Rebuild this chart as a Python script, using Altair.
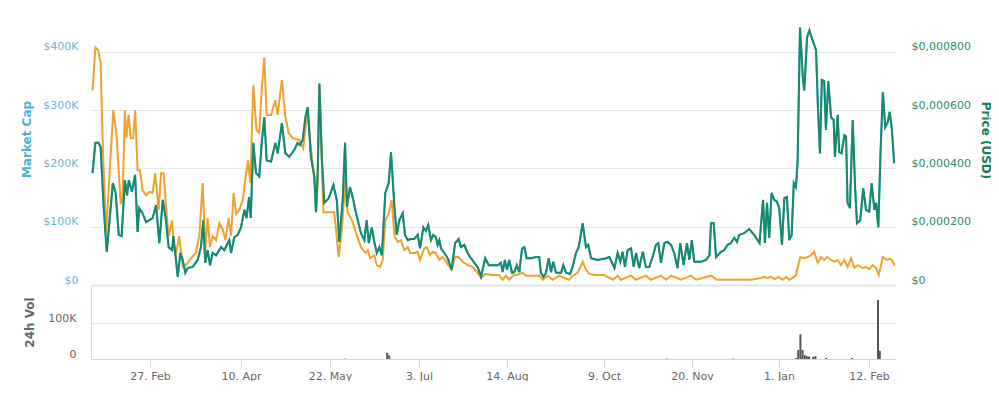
import altair as alt
import pandas as pd

# ---------------- data ----------------
BASE_DATE = "2017-01-31"          # day 0 of the day offsets below
SUPPLY = 5e8                       # $400K market cap <-> $0.000800 price

# market cap (thousand USD) - also gives the USD price line
mcap_day = [0.7, 2, 3.5, 4.4, 5.8, 7.2, 10, 11.3, 12.7, 14, 15.5, 16.5, 17.3, 18.7, 20.2, 21.3, 22.1, 23.6, 25.2, 28.2,
            29.8, 31.3, 32.9, 34.4, 35.6, 37.2, 37.8, 39, 39.8, 41, 42.1, 43.3, 44.4, 46.7, 49, 50.5, 51.6, 52.5, 53.6, 54.7,
            55.9, 57.5, 59.8, 61.3, 63.6, 64.4, 65.9, 67.5, 69, 70.6, 71.6, 72.8, 73.6, 74.8, 76.1, 77.6, 78.9, 80, 81.1, 83.2,
            85.2, 86.3, 88.3, 89.9, 91.8, 94.2, 95.7, 96.8, 98.1, 99.4, 100.5, 102, 103.6, 104.4, 105.2, 106, 107.2, 108.3, 110.4, 112.6,
            114.2, 115.4, 117, 118.1, 119, 120.4, 121.7, 123.3, 125.6, 127.2, 128.3, 129.3, 130.7, 131.9, 133.1, 134.3, 135.5, 137.1, 138.7, 139.8,
            141.4, 142.5, 143.7, 145.3, 146.4, 147.7, 148.9, 150.8, 152.4, 153.5, 155.1, 156.3, 157.4, 158.7, 159.8, 161.1, 161.9, 162.7, 163.5, 165.1,
            166.7, 168.6, 170.2, 171.9, 173, 174.6, 176.2, 177.8, 179.4, 181, 182.6, 184.6, 186.3, 188.2, 190.6, 192.1, 192.9, 194, 195, 196.3,
            197.9, 199.2, 200.6, 202.1, 203.7, 205, 206.4, 208.9, 211.7, 213.6, 214.6, 216, 217.5, 219.1, 220.4, 221.7, 223.3, 226.2, 227.5, 229.1,
            231.4, 232.9, 234.8, 236.4, 238.7, 240.6, 241.9, 243.5, 247.3, 252, 253.6, 256, 257.5, 258.8, 259.9, 261, 262.3, 263.9, 265.2, 266.3,
            267.8, 269.5, 271, 272.6, 274.2, 275.8, 276.9, 278.2, 279.8, 281.4, 283, 284.5, 286.1, 287.4, 289, 290.6, 291.7, 292.9, 294.1, 297.3,
            299.8, 301.4, 302.2, 303.5, 304.6, 307, 308.6, 310.2, 311.8, 313.4, 314.7, 315.8, 318.2, 320.6, 323, 325.6, 327.3, 328.2, 329.2, 330.3,
            331.4, 332.7, 334, 335.1, 336.4, 337.5, 338.7, 339.8, 340.9, 341.9, 342.9, 343.7, 344.8, 346.1, 346.8, 348.1, 349.2, 350.7, 352.3, 353.1,
            354.1, 355, 356.1, 356.9, 358, 359.3, 360.5, 361.1, 362.4, 363.1, 364.2, 365.5, 366.3, 367, 368.1, 369.4, 370.5, 371.4, 372.9, 374.3,
            375.6, 377.1, 378.2, 379.5, 380.3, 381.3, 382.3, 383.4, 384.5, 385.7, 386.5, 387.6, 388.6]
mcap_k = [192, 244, 244, 237, 134, 57, 175, 158, 86, 84, 180, 154, 180, 160, 189, 91, 132, 123, 108, 115,
          137, 72, 146, 111, 65, 60, 84, 43, 14, 55, 43, 21, 29, 31, 43, 65, 111, 38, 60, 34,
          55, 51, 65, 60, 77, 55, 82, 86, 99, 129, 115, 151, 115, 244, 192, 186, 249, 288, 214, 212,
          244, 226, 278, 226, 220, 232, 244, 240, 249, 288, 305, 220, 186, 125, 192, 346, 214, 141, 149, 172,
          146, 74, 146, 244, 134, 168, 151, 123, 89, 77, 111, 72, 99, 74, 55, 65, 51, 158, 175, 228,
          134, 86, 111, 123, 86, 77, 79, 79, 86, 63, 99, 93, 103, 77, 86, 82, 69, 77, 63, 55,
          46, 26, 72, 79, 65, 69, 55, 46, 38, 31, 14, 46, 34, 34, 34, 38, 22, 43, 26, 43,
          21, 22, 34, 22, 63, 65, 46, 46, 48, 48, 21, 14, 21, 46, 22, 40, 21, 21, 34, 21,
          19, 31, 55, 65, 106, 65, 69, 46, 43, 46, 48, 29, 55, 40, 57, 31, 60, 63, 31, 55,
          29, 57, 31, 31, 48, 69, 72, 38, 72, 74, 69, 55, 29, 72, 34, 72, 43, 77, 40, 40,
          43, 51, 106, 106, 48, 57, 60, 69, 72, 81, 74, 86, 89, 96, 86, 72, 146, 72, 141, 81,
          158, 146, 143, 132, 69, 149, 151, 77, 86, 175, 168, 214, 442, 357, 334, 425, 437, 420, 403, 312,
          226, 352, 350, 266, 350, 288, 283, 220, 292, 228, 226, 257, 255, 141, 132, 283, 168, 106, 111, 166,
          129, 126, 175, 129, 141, 99, 226, 331, 271, 280, 297, 266, 209]

# price in BTC (own hidden scale, relative units)
btc_day = [0.7, 2, 3.3, 4.4, 5.5, 7, 8.5, 10.2, 11.6, 13.6, 14.4, 15.5, 16.2, 17.2, 18.2, 19.3, 20.2, 21.3, 22.4, 23.6,
           25.2, 26.7, 28.2, 29.4, 31, 32.1, 33.3, 34.4, 35.6, 37.2, 38.2, 39, 40.5, 42.1, 43.6, 45.9, 48.2, 49.8, 51.3, 52.5,
           53.6, 54.7, 55.9, 57.5, 59, 60.6, 61.8, 63.3, 64.4, 65.6, 66.7, 68.2, 69.8, 71, 72.3, 73.4, 74.8, 76.3, 77.6, 78.9,
           80, 81.1, 83.2, 85.2, 86.3, 88.3, 89.9, 91.5, 93.4, 96.5, 98.4, 99.7, 100.5, 102, 103.6, 104.4, 105.2, 106, 106.8, 107.9,
           110, 113, 115.1, 116.7, 118.2, 119.3, 121.4, 123.3, 125.6, 127.7, 128.8, 129.9, 131.9, 133.1, 134.6, 135.9, 137.1, 138.7, 140.1, 141.4,
           143, 144.5, 146.1, 147.7, 148.8, 150.8, 152.4, 153.5, 155.5, 156.7, 158.3, 159.5, 161.1, 162.7, 164.3, 165.9, 168.6, 170.2, 171.9, 173.8,
           176.2, 178.6, 181, 182.6, 184.6, 188.2, 191.3, 192.9, 194.5, 196.3, 198.3, 202.1, 204, 205.9, 209.8, 213.6, 215.6, 218.5, 221.4, 225.2,
           228.1, 231, 232.9, 235.8, 238.7, 240.6, 242.5, 245.4, 251.1, 255.3, 257.5, 259.1, 263.9, 266.3, 271, 273.4, 278.2, 280.6, 283, 287.8,
           292.5, 295, 302.2, 305, 321.5, 326.3, 327.9, 329.5, 331.1, 333, 334.7, 336.7, 338.3, 339.8, 341.4, 342.9, 344.9, 346.5, 348.4, 349.9,
           351.4, 353.1, 354.6, 356.1, 357.4, 359.3, 360.8, 362.4, 363.9, 365.5, 367, 368.6, 370.2, 371.7, 374.1, 375.6, 377.1, 378.7, 380.3, 381.5,
           383.4, 385, 386.5, 387.6, 388.8]
btc_val = [334, 408, 403, 382, 226, 89, 192, 300, 261, 141, 144, 300, 252, 292, 252, 252, 300, 197, 197, 163,
           154, 160, 158, 192, 129, 192, 192, 134, 84, 111, 60, 55, 84, 31, 34, 46, 55, 86, 175, 60,
           115, 65, 84, 77, 106, 95, 77, 115, 84, 158, 122, 129, 146, 180, 214, 175, 343, 266, 261, 340,
           391, 292, 292, 317, 292, 352, 290, 261, 252, 249, 235, 278, 290, 237, 180, 125, 180, 343, 249, 125,
           125, 125, 48, 99, 180, 125, 111, 89, 65, 55, 60, 46, 51, 34, 31, 43, 111, 122, 146, 84,
           74, 77, 60, 65, 55, 55, 57, 43, 63, 65, 51, 57, 55, 43, 48, 40, 26, 48, 48, 40,
           34, 31, 21, 12, 19, 17, 17, 9, 16, 9, 16, 19, 21, 16, 16, 16, 9, 16, 9, 16,
           12, 9, 16, 21, 40, 26, 19, 17, 17, 9, 16, 9, 16, 9, 16, 9, 16, 9, 16, 9,
           16, 9, 16, 9, 9, 12, 14, 12, 14, 10, 14, 9, 14, 9, 12, 17, 48, 46, 48, 51,
           57, 38, 48, 43, 48, 43, 40, 43, 34, 43, 31, 46, 29, 34, 29, 31, 27, 34, 29, 17,
           48, 43, 45, 43, 33]

# 24h volume (thousand USD)
vol_day = [118, 138, 139, 281, 313, 343, 344, 345, 346, 347, 348, 349, 351, 352, 357, 369, 382, 383]
vol_k = [1, 18, 10, 1, 1, 3, 25, 69, 25, 11, 8, 7, 6, 8, 3, 3, 164, 23]

# x-axis tick dates and the last date of the axis
tick_dates = ["2017-02-27", "2017-04-10", "2017-05-22", "2017-07-03", "2017-08-14",
              "2017-10-09", "2017-11-20", "2018-01-01", "2018-02-12"]
end_date = "2018-02-24"

# ---------------- tables ----------------
base = pd.Timestamp(BASE_DATE)
tick_days = [(pd.Timestamp(t) - base).days for t in tick_dates]
end_day = (pd.Timestamp(end_date) - base).days
base_ms = int(base.tz_localize("UTC").timestamp() * 1000)

df_main = pd.DataFrame({"day": mcap_day, "mcap": [v * 1000 for v in mcap_k]})
df_main["price"] = df_main["mcap"] / SUPPLY
df_btc = pd.DataFrame({"day": btc_day, "btc": btc_val})
df_vol = pd.DataFrame({"day": vol_day, "vol": [v * 1000 for v in vol_k]})

# ---------------- layout / style ----------------
FONT = "DejaVu Sans"
W, H_TOP, H_BOT = 805, 263, 73

# Highstock ordinal axis: piecewise day -> pixel mapping anchored at the ticks
x_domain = [0] + tick_days + [end_day]
x_range = [0, 59, 150, 239, 328, 416, 513, 601, 688, 778, 804]
xscale = alt.Scale(domain=x_domain, range=x_range, nice=False, zero=False)
date_label = f"utcFormat({base_ms} + datum.value * 86400000, '%-d. %b')"

x_top = alt.X("day:Q", scale=xscale,
              axis=alt.Axis(labels=False, ticks=False, grid=False, domain=True,
                            domainColor="#e3e3e3", domainWidth=2, title=None))

mcap_line = alt.Chart(df_main).mark_line(color="#5db3de", strokeWidth=2).encode(
    x=x_top,
    y=alt.Y("mcap:Q", scale=alt.Scale(domain=[0, 451500], nice=False),
            axis=alt.Axis(orient="left", values=[0, 100000, 200000, 300000, 400000],
                          labelExpr="datum.value == 0 ? '$0' : '$' + (datum.value / 1000) + 'K'",
                          labelColor="#6ab4d6", labelFont=FONT, labelFontSize=11,
                          labelPadding=13, labelBaseline="bottom",
                          grid=True, gridColor="#e6e6e6", domain=False, ticks=False,
                          title="Market Cap", titleColor="#4fb0d8", titleFont=FONT,
                          titleFontSize=12, titleFontWeight="bold",
                          titleAngle=-90, titleX=-58, titleY=117)),
)

btc_line = alt.Chart(df_btc).mark_line(color="#f0a22e", strokeWidth=2).encode(
    x=x_top,
    y=alt.Y("btc:Q", scale=alt.Scale(domain=[0, 451.5], nice=False), axis=None),
)

price_line = alt.Chart(df_main).mark_line(color="#17896e", strokeWidth=2).encode(
    x=x_top,
    y=alt.Y("price:Q", scale=alt.Scale(domain=[0, 0.000903], nice=False),
            axis=alt.Axis(orient="right", values=[0, 0.0002, 0.0004, 0.0006, 0.0008],
                          labelExpr="datum.value == 0 ? '$0' : '$' + replace(format(datum.value, '.6f'), '.', ',')",
                          labelColor="#2b8c6e", labelFont=FONT, labelFontSize=11,
                          labelPadding=15, labelBaseline="bottom",
                          grid=False, domain=False, ticks=False,
                          title="Price (USD)", titleColor="#15805f", titleFont=FONT,
                          titleFontSize=12, titleFontWeight="bold",
                          titleAngle=90, titleX=82, titleY=118)),
)

top = alt.layer(mcap_line, btc_line, price_line).resolve_scale(y="independent").properties(
    width=W, height=H_TOP)

vol = alt.Chart(df_vol).mark_bar(size=2, color="#555555").encode(
    x=alt.X("day:Q", scale=xscale,
            axis=alt.Axis(values=tick_days, labelExpr=date_label,
                          labelColor="#666666", labelFont=FONT, labelFontSize=11, labelPadding=3,
                          tickColor="#ccd6eb", tickSize=8, domainColor="#ccd6eb",
                          grid=False, title=None)),
    y=alt.Y("vol:Q", scale=alt.Scale(domain=[0, 203000], nice=False),
            axis=alt.Axis(values=[0, 100000],
                          labelExpr="datum.value == 0 ? '0' : (datum.value / 1000) + 'K'",
                          labelColor="#666666", labelFont=FONT, labelFontSize=11,
                          labelPadding=15, labelBaseline="bottom",
                          grid=True, gridColor="#e6e6e6", domain=True, domainColor="#ccd6eb",
                          ticks=False, title="24h Vol", titleColor="#666666", titleFont=FONT,
                          titleFontSize=12, titleFontWeight="bold",
                          titleAngle=-90, titleX=-55, titleY=36)),
).properties(width=W, height=H_BOT)

chart = alt.vconcat(top, vol, spacing=1).properties(
    padding={"left": 12, "top": 14, "right": 0, "bottom": 0},
    background="white",
).configure_view(stroke=None)

chart.save("out.html", embed_options={"renderer": "svg", "actions": False})
